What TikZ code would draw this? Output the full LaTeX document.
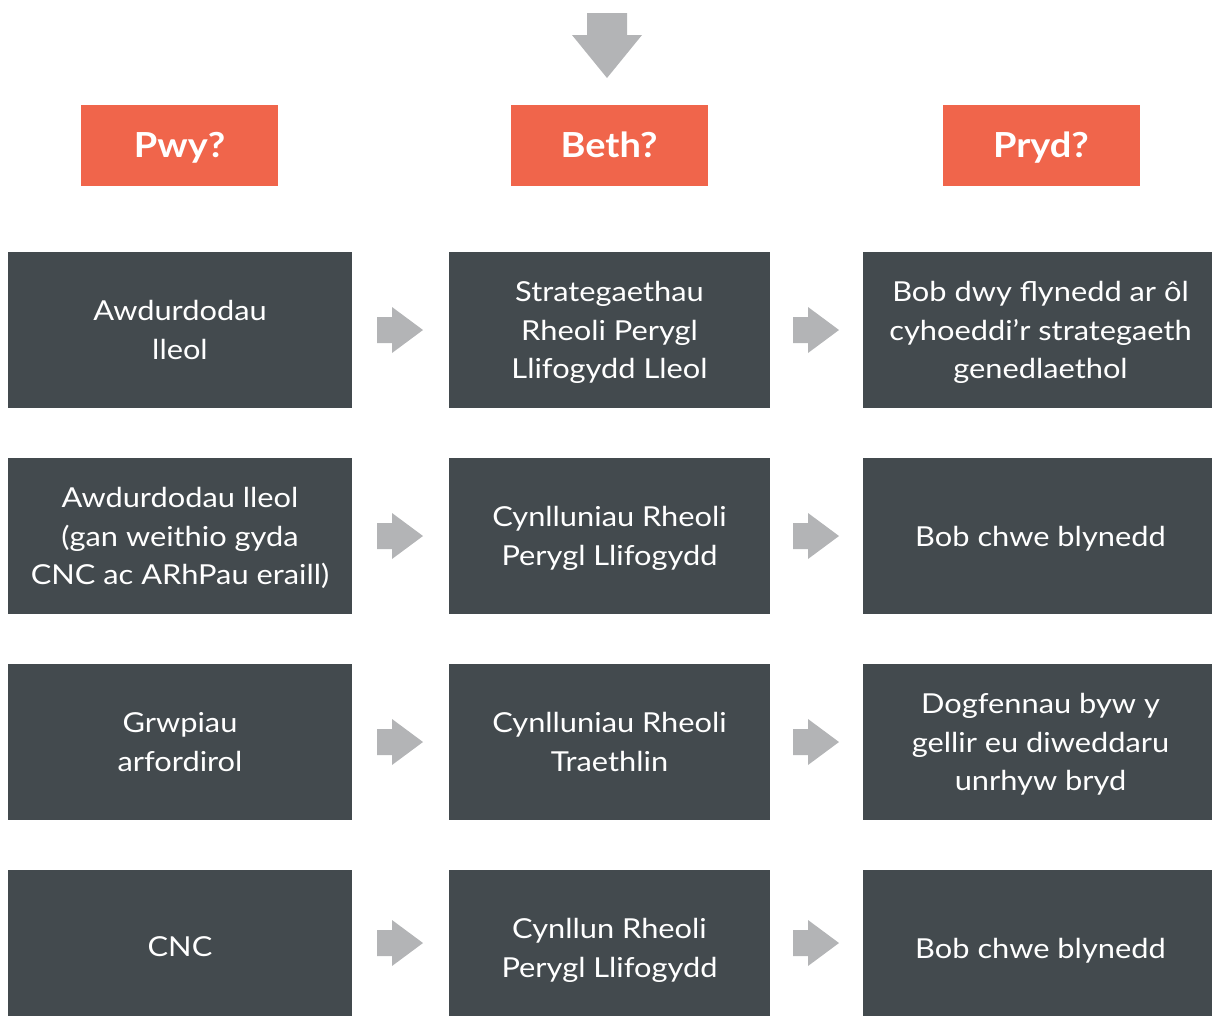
\documentclass[tikz,border=0pt]{standalone}
\usepackage{fontspec}
\setmainfont{Lato}
\newfontfamily\cellfont[FakeStretch=1.12]{Lato}
\newfontfamily\hdrfont[FakeStretch=1.1]{Lato Bold}
\definecolor{hdr}{HTML}{F0654B}
\definecolor{box}{HTML}{434A4E}
\definecolor{arr}{HTML}{B3B4B6}
\newcommand\ct[1]{\rule{0pt}{27pt}#1\rule[-7pt]{0pt}{7pt}}
\begin{document}
\begin{tikzpicture}[x=1pt,y=-1pt,
  hdrbox/.style={fill=hdr,text=white,minimum width=197pt,minimum height=81pt,inner sep=0pt,text height=30.5pt,text depth=6pt,font=\hdrfont\fontsize{34.5}{38}\selectfont},
  cell/.style={text=white,inner sep=0pt,align=center,font=\cellfont\fontsize{27.5}{38.5}\selectfont},
  garrow/.style={fill=arr,draw=none}]
\useasboundingbox (0,0) rectangle (1212,1017);
% headers
\node[hdrbox] (h1) at (179.5,145.5) {Pwy?};
\node[hdrbox] (h2) at (609,145.5) {Beth?};
\node[hdrbox] (h3) at (1041,145.5) {Pryd?};
% top arrow
\fill[garrow] (587,13) -- (627,13) -- (627,35) -- (642,35) -- (607,78) -- (572,35) -- (587,35) -- cycle;
% rows
\foreach \r/\ya/\yb in {1/252/408,2/458/614,3/664/820,4/870/1016}{
  \path[fill=box] (8,\ya) rectangle (352,\yb);
  \path[fill=box] (449,\ya) rectangle (770,\yb);
  \path[fill=box] (863,\ya) rectangle (1212,\yb);
  \pgfmathsetmacro{\yc}{(\ya+\yb)/2}
  \fill[garrow] (377,\yc-13) -- (392,\yc-13) -- (392,\yc-23) -- (423,\yc) -- (392,\yc+23) -- (392,\yc+13) -- (377,\yc+13) -- cycle;
  \fill[garrow] (793,\yc-13) -- (808,\yc-13) -- (808,\yc-23) -- (839,\yc) -- (808,\yc+23) -- (808,\yc+13) -- (793,\yc+13) -- cycle;
}
\node[cell] (a1) at (180,330) {\ct{Awdurdodau\\lleol}};
\node[cell] (b1) at (609.5,330) {\ct{Strategaethau\\Rheoli Perygl\\Llifogydd Lleol}};
\node[cell] (c1) at (1040.5,330) {\ct{Bob dwy flynedd ar ôl\\cyhoeddi’r strategaeth\\genedlaethol}};
\node[cell] (a2) at (180,536) {\ct{Awdurdodau lleol\\(gan weithio gyda\\CNC ac ARhPau eraill)}};
\node[cell] (b2) at (609.5,536) {\ct{Cynlluniau Rheoli\\Perygl Llifogydd}};
\node[cell] (c2) at (1040.5,536) {\ct{Bob chwe blynedd}};
\node[cell] (a3) at (180,742) {\ct{Grwpiau\\arfordirol}};
\node[cell] (b3) at (609.5,742) {\ct{Cynlluniau Rheoli\\Traethlin}};
\node[cell] (c3) at (1040.5,742) {\ct{Dogfennau byw y\\gellir eu diweddaru\\unrhyw bryd}};
\node[cell] (a4) at (180,946) {\ct{CNC}};
\node[cell] (b4) at (609.5,948) {\ct{Cynllun Rheoli\\Perygl Llifogydd}};
\node[cell] (c4) at (1040.5,948) {\ct{Bob chwe blynedd}};
\end{tikzpicture}
\end{document}
